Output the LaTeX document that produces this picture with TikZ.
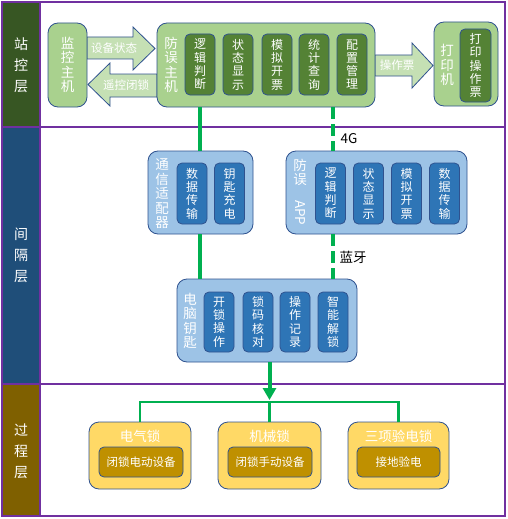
\documentclass[tikz,border=0pt]{standalone}
\usepackage{fontspec}
\usepackage{graphicx}
\setmainfont{Noto Sans CJK SC}
\usetikzlibrary{arrows.meta}

\definecolor{framepurple}{HTML}{7030A0}
\definecolor{layerone}{HTML}{375623}
\definecolor{layertwo}{HTML}{1F4E79}
\definecolor{layerthree}{HTML}{7F6000}
\definecolor{bordblue}{HTML}{2F528F}
\definecolor{lgreen}{HTML}{A9D18E}
\definecolor{dgreen}{HTML}{548235}
\definecolor{agreen}{HTML}{C5E0B4}
\definecolor{lblue}{HTML}{9DC3E6}
\definecolor{dblue}{HTML}{2E75B6}
\definecolor{lyellow}{HTML}{FFD966}
\definecolor{dgold}{HTML}{BF9000}
\definecolor{linkgreen}{HTML}{00B050}

\begin{document}
\begin{tikzpicture}[x=1pt,y=-1pt,
	outerbox/.style={draw=bordblue, line width=0.8pt, rounded corners=10pt, inner sep=0pt, text=white, align=center, font=\fontsize{13.5}{14.5}\selectfont},
	innerbox/.style={draw=bordblue, line width=0.8pt, rounded corners=5pt, inner sep=0pt, minimum width=30pt, minimum height=61pt, text=white, align=center, font=\fontsize{12}{13.3}\selectfont},
	boxtitle/.style={text=white, align=center, font=\fontsize{13.5}{14.5}\selectfont},
	link/.style={draw=linkgreen, line width=4pt},
	wireless/.style={link, dash pattern=on 12pt off 5pt},
	bigarrow/.style={draw=bordblue, fill=agreen, line width=0.8pt},
	arrowtext/.style={text=white, font=\fontsize{11.5}{12}\selectfont},
	layername/.style={text=white, align=center, font=\fontsize{14}{21}\selectfont}
]

	%Fix the size of the picture
	\useasboundingbox (0,0) rectangle (508,519);

	%Row borders y = 2, 127, 384, 516 and the label column x = 2..40
	\pgfmathsetmacro{\rowa}{127}
	\pgfmathsetmacro{\rowb}{384}

	%The three layer columns
	\fill[layerone] (2,2) rectangle (40,\rowa);
	\fill[layertwo] (2,\rowa) rectangle (40,\rowb);
	\fill[layerthree] (2,\rowb) rectangle (40,516);
	\draw[framepurple, line width=1.2pt] (2,2) rectangle (505,516);
	\draw[framepurple, line width=1.2pt] (2,\rowa) -- (505,\rowa);
	\draw[framepurple, line width=1.2pt] (2,\rowb) -- (505,\rowb);
	\draw[framepurple, line width=1.2pt] (40,2) -- (40,516);

	\node[layername] (lstation) at (21,65) {站\\控\\层};
	\node[layername] (lbay) at (21,255) {间\\隔\\层};
	\node[layername] (lprocess) at (21,451) {过\\程\\层};

	%Big arrows between the hosts
	\draw[bigarrow] (87,37) -- (133,37) -- (133,27) -- (155,48.5) -- (133,70) -- (133,59) -- (87,59) -- cycle;
	\draw[bigarrow] (157,74) -- (110,74) -- (110,63) -- (88,84.5) -- (110,106) -- (110,97) -- (157,97) -- cycle;
	\draw[bigarrow] (375,55) -- (412,55) -- (412,43) -- (433,65.5) -- (412,88) -- (412,76) -- (375,76) -- cycle;
	\node[arrowtext] (astate) at (114,48) {设备状态};
	\node[arrowtext] (aremote) at (126,85) {遥控闭锁};
	\node[arrowtext] (aticket) at (397,65.5) {操作票};

	%Station layer
	\node[outerbox, fill=lgreen, minimum width=39pt, minimum height=84pt] (mon) at (67.5,65) {监\\控\\主\\机};
	\node[outerbox, fill=lgreen, minimum width=218pt, minimum height=84pt] (host) at (266,65) {};
	\node[boxtitle] (hostt) at (171,65) {防\\误\\主\\机};
	\node[innerbox, fill=dgreen] (hlogic) at (200,64.5) {逻\\辑\\判\\断};
	\node[innerbox, fill=dgreen] (hstate) at (238,64.5) {状\\态\\显\\示};
	\node[innerbox, fill=dgreen] (hsim) at (277,64.5) {模\\拟\\开\\票};
	\node[innerbox, fill=dgreen] (hquery) at (314,64.5) {统\\计\\查\\询};
	\node[innerbox, fill=dgreen] (hconf) at (352,64.5) {配\\置\\管\\理};

	\node[outerbox, fill=lgreen, minimum width=64pt, minimum height=84pt] (prn) at (466,64) {};
	\node[boxtitle] (prnt) at (447,65) {打\\印\\机};
	\node[innerbox, fill=dgreen, minimum width=31pt, minimum height=73pt] (pticket) at (475.5,65.5) {打\\印\\操\\作\\票};

	%Bay layer
	\node[outerbox, fill=lblue, minimum width=105pt, minimum height=83pt] (adapt) at (200.5,192.5) {};
	\node[boxtitle] (adaptt) at (162,194) {通\\信\\适\\配\\器};
	\node[innerbox, fill=dblue] (adata) at (192,193.5) {数\\据\\传\\输};
	\node[innerbox, fill=dblue] (acharge) at (229.5,193.5) {钥\\匙\\充\\电};

	\node[outerbox, fill=lblue, minimum width=181pt, minimum height=83pt] (app) at (376.5,192.5) {};
	\node[boxtitle] (appt) at (300,192) {防\\误\\[1pt]\rotatebox{-90}{APP}};
	\node[innerbox, fill=dblue] (plogic) at (330.5,193.5) {逻\\辑\\判\\断};
	\node[innerbox, fill=dblue] (pstate) at (368.5,193.5) {状\\态\\显\\示};
	\node[innerbox, fill=dblue] (psim) at (406.5,193.5) {模\\拟\\开\\票};
	\node[innerbox, fill=dblue] (pdata) at (444.5,193.5) {数\\据\\传\\输};

	\node[outerbox, fill=lblue, minimum width=180pt, minimum height=83pt] (key) at (267,320.5) {};
	\node[boxtitle] (keyt) at (190,321) {电\\脑\\钥\\匙};
	\node[innerbox, fill=dblue, minimum height=60pt] (kopen) at (219,322) {开\\锁\\操\\作};
	\node[innerbox, fill=dblue, minimum height=60pt] (kcode) at (258,322) {锁\\码\\核\\对};
	\node[innerbox, fill=dblue, minimum height=60pt] (krec) at (295,322) {操\\作\\记\\录};
	\node[innerbox, fill=dblue, minimum height=60pt] (kunlock) at (333,322) {智\\能\\解\\锁};

	%Process layer
	\node[outerbox, fill=lyellow, minimum width=102pt, minimum height=67pt] (elock) at (140,455.5) {};
	\node[outerbox, fill=lyellow, minimum width=103pt, minimum height=67pt] (mlock) at (269.5,455.5) {};
	\node[outerbox, fill=lyellow, minimum width=101pt, minimum height=67pt] (tlock) at (398.5,455.5) {};
	\node[boxtitle] (elockt) at (140,436) {电气锁};
	\node[boxtitle] (mlockt) at (269.5,436) {机械锁};
	\node[boxtitle] (tlockt) at (398.5,436) {三项验电锁};
	\node[innerbox, fill=dgold, minimum width=84pt, minimum height=30pt, font=\fontsize{11.5}{12}\selectfont] (edev) at (141,462) {闭锁电动设备};
	\node[innerbox, fill=dgold, minimum width=84pt, minimum height=30pt, font=\fontsize{11.5}{12}\selectfont] (mdev) at (270,462) {闭锁手动设备};
	\node[innerbox, fill=dgold, minimum width=83pt, minimum height=30pt, font=\fontsize{11.5}{12}\selectfont] (tdev) at (398.5,462) {接地验电};

	%Wired links
	\draw[link] (hlogic |- host.south) -- (hlogic |- adapt.north);
	\draw[link] (hlogic |- adapt.south) -- (hlogic |- key.north);

	%Wireless links 4G and bluetooth
	\draw[wireless] (kunlock |- host.south) -- (kunlock |- app.north);
	\draw[wireless] (kunlock |- app.south) -- (kunlock |- key.north);
	\node[anchor=west, font=\fontsize{13.5}{14}\selectfont] (l4g) at (337,139) {4G};
	\node[anchor=west, font=\fontsize{13.5}{14}\selectfont] (lbt) at (336,257) {蓝牙};

	%Key to the locks
	\coordinate (bus) at (0,402);
	\draw[link, line width=2.5pt] (elock.north) -- (elock |- bus) -- (tlock |- bus) -- (tlock.north);
	\draw[link, line width=2.5pt] (mlock |- bus) -- (mlock.north);
	\draw[link, -{Triangle[width=13pt,length=12pt]}] (mlock |- key.south) -- ([yshift=2pt]mlock |- bus);

\end{tikzpicture}
\end{document}
